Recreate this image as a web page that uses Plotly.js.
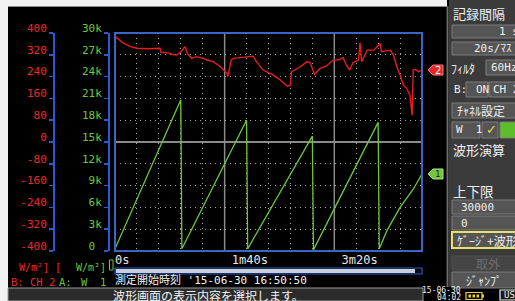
<!DOCTYPE html>
<html>
<head>
<meta charset="utf-8">
<script src="https://cdn.plot.ly/plotly-3.0.1.min.js"></script>
<style>
html,body{margin:0;padding:0;background:#000;overflow:hidden;}
#chart{width:515px;height:301px;}
</style>
</head>
<body>
<div id="chart"></div>
<script>
// ---- Data ----
// A: W 1 (green, 0..30k W/m²)
const tGreen = [0, 60, 61, 120, 121, 180, 181, 240, 241, 248, 260, 272, 280];
const wGreen = [300, 20800, 300, 18000, 300, 15800, 150, 17700, 300, 2800, 6000, 8500, 10600];
// B: CH 2 (red, -400..400 W/m²)
const tRed = [0, 7, 14, 20, 30, 41, 42, 47, 52, 56, 60, 64, 66, 70, 74, 80, 84, 90, 96, 102,
              103, 106, 108, 117, 126, 129, 135, 138, 144, 150, 154, 157, 160, 161, 169, 175, 178, 182, 187, 193,
              198, 205, 208, 211, 214, 217, 222, 223.5, 225, 230, 236, 241.7, 243, 251, 254, 257, 260, 263, 266, 269,
              271, 272, 274, 277, 280];
const vRed = [388, 365, 350, 344, 342, 344, 328, 329, 322, 319, 331, 350, 325, 307, 313, 308, 301, 294, 276, 252,
              240, 301, 307, 311, 315, 295, 264, 258, 246, 230, 215, 205, 209, 258, 276, 295, 291, 249, 270, 279,
              298, 303, 310, 282, 264, 291, 301, 364, 295, 337, 337, 362, 331, 337, 319, 276, 246, 209, 197, 172,
              98, 264, 266, 258, 264];
// Axis ticks
const xTickVals = [0, 100, 200];
const xTickText = ['0s', '\u00a01m40s', '\u00a03m20s'];
const gTickVals = [0, 3000, 6000, 9000, 12000, 15000, 18000, 21000, 24000, 27000, 30000];
const gTickText = ['0\u00a0', '3k', '6k', '9k', '12k', '15k', '18k', '21k', '24k', '27k', '30k'];
const rTickVals = [-400, -320, -240, -160, -80, 0, 80, 160, 240, 320, 400];
const rTickText = ['-400', '-320', '-240', '-160', '-80', '0', '80', '160', '240', '320', '400'];

// ---- helpers (pixel -> paper) ----
const W = 515, H = 301;
const px = x => x / W;
const py = y => 1 - y / H;
const RED = '#ee2a2a', GREEN = '#6cc83c', BLUE = '#2a5bd0';
const MONO = 'DejaVu Sans Mono, Noto Sans CJK JP';
const JP = 'Noto Sans CJK JP, DejaVu Sans';

const shapes = [];
const ann = [];
function rect(x0, y0, x1, y1, fill, line, lw, layer) {
  shapes.push({type: 'rect', xref: 'paper', yref: 'paper', x0: px(x0), x1: px(x1), y0: py(y1), y1: py(y0),
    fillcolor: fill || 'rgba(0,0,0,0)', line: {color: line || 'rgba(0,0,0,0)', width: lw || 0}, layer: layer || 'above'});
}
function txt(x, y, text, color, size, anchor, family) {
  ann.push({xref: 'paper', yref: 'paper', x: px(x), y: py(y), text: text, showarrow: false,
    xanchor: anchor || 'left', yanchor: 'middle', font: {family: family || MONO, size: size || 12, color: color || '#fff'}});
}

// screen frame
rect(0, 0, 447, 6, '#f2f2f2', null, 0, 'below');
rect(0, 0, 8, 301, '#f2f2f2', null, 0, 'below');
rect(8, 6, 447, 7, '#8c8c8c', null, 0, 'below');
// right panel
rect(449, 0, 515, 287, '#3b3b3b', null, 0, 'below');
rect(446.5, 6, 448.5, 287, '#6a6a6a', null, 0, 'below');
// status bar
rect(8, 288, 423, 301, '#2c2c2c', '#9a9a9a', 1, 'below');
txt(111, 295, '波形画面の表示内容を選択します。', '#f4f4f4', 12, 'left', JP);
// scrollbar
rect(115, 268, 422, 274, '#0a0a0a', BLUE, 1.2, 'below');
rect(116, 269, 415, 273, '#c9cfd6', null, 0, 'below');
// start time
txt(113, 279.5, '測定開始時刻 \'15-06-30 16:50:50', '#f4f4f4', 11, 'left', MONO);
// small green cursor mark
rect(109.5, 260, 113, 270, 'rgba(0,0,0,0)', GREEN, 1, 'above');
// plot frame
shapes.push({type: 'rect', xref: 'x domain', yref: 'y domain', x0: 0, x1: 1, y0: 0, y1: 1,
  line: {color: '#3a66c8', width: 2}, layer: 'above'});
// solid division lines at 100 s and 200 s
xTickVals.slice(1).forEach(v => shapes.push({type: 'line', xref: 'x', yref: 'y domain', x0: v, x1: v, y0: 0, y1: 1,
  line: {color: '#8a8a8a', width: 1.5}, layer: 'below'}));

// units / channel labels
txt(51, 267, 'W/m²]', RED, 10, 'right');
txt(53, 267, '[', RED, 10.5, 'left');
txt(108, 267, 'W/m²]', GREEN, 10, 'right');
txt(9, 282, 'B: CH 2', RED, 10.5, 'left');
txt(57, 282, 'A:', GREEN, 10.5, 'left');
txt(108, 282, 'W  1', GREEN, 10.5, 'right');

// right panel widgets
function btn(x0, y0, x1, y1, label, opts) {
  opts = opts || {};
  rect(x0, y0, x1, y1, opts.fill || '#555555', opts.border || '#7d7d7d', opts.lw || 1, 'above');
  if (label) txt(opts.tx || (x0 + 3), (y0 + y1) / 2, label, opts.color || '#f0f0f0', opts.size || 11, opts.anchor || 'left', opts.family || MONO);
}
txt(451, 13.5, '記録間隔', '#f0f0f0', 13, 'left', JP);
btn(452, 25, 520, 38, '1 s', {tx: 497});
btn(452, 42, 520, 55, '20s/ﾏｽ', {tx: 472});
txt(449, 68, 'ﾌｨﾙﾀ', '#f0f0f0', 12, 'left', JP);
btn(486, 60, 520, 75, '60Hz', {tx: 489});
txt(452, 89.5, 'B:', '#f0f0f0', 11, 'left');
btn(466, 82, 488, 97, 'ON', {tx: 474});
btn(489, 82, 520, 97, 'CH 2', {tx: 491});
btn(452, 103, 520, 118, 'ﾁｬﾈﾙ設定', {tx: 455, size: 12, family: JP});
btn(452, 122, 480, 138, 'W  1', {tx: 454});
btn(482, 122, 498, 138, '✓', {tx: 484, color: '#e6d83a', size: 13, family: 'DejaVu Sans'});
btn(500, 122, 520, 138, '', {fill: '#5cbf2a'});
txt(451, 149, '波形演算', '#f0f0f0', 13, 'left', JP);
txt(451, 191, '上下限', '#f0f0f0', 13.5, 'left', JP);
btn(452, 200, 520, 214, '30000', {tx: 459});
btn(452, 216, 520, 230, '0', {tx: 459});
btn(452, 232, 520, 248, 'ｹﾞｰｼﾞ+波形', {tx: 455, size: 12, border: '#e8e06a', lw: 2, family: JP});
btn(452, 256, 520, 270, '取外', {tx: 474, size: 12, fill: '#454545', border: '#4f4f4f', color: '#6e6e6e', family: JP});
btn(452, 272, 520, 288, 'ｼﾞｬﾝﾌﾟ', {tx: 464, size: 12, family: JP});
// bottom-right status
txt(463, 290.5, '15-06-30', '#f0f0f0', 8, 'right');
txt(463, 297.5, '04:02', '#f0f0f0', 8, 'right');
rect(466, 292.5, 482, 299.5, 'rgba(0,0,0,0)', '#e6d43a', 1.2, 'above');
rect(482, 294.5, 484, 297.5, '#e6d43a', null, 0, 'above');
rect(468.5, 294.5, 471, 297.5, '#e6d43a', null, 0, 'above');
rect(472.5, 294.5, 475, 297.5, '#e6d43a', null, 0, 'above');
rect(476.5, 294.5, 479, 297.5, '#e6d43a', null, 0, 'above');
rect(500, 290, 520, 300, '#1a1a1a', '#f0f0f0', 1.2, 'above');
txt(502, 295, 'USB', '#f0f0f0', 9, 'left');

// channel value tags at the right of the plot (anchored to last data values)
const lastRed = vRed[vRed.length - 1];
const lastGreen = wGreen[wGreen.length - 1];
shapes.push({type: 'path', xref: 'paper', yref: 'y2', xsizemode: 'pixel', ysizemode: 'pixel',
  xanchor: px(428), yanchor: lastRed, path: 'M0,0 L5,5 L15,5 L15,-5 L5,-5 Z',
  fillcolor: '#e8262a', line: {color: '#ff8080', width: 1}, layer: 'above'});
ann.push({xref: 'paper', yref: 'y2', x: px(438), y: lastRed, text: '2', showarrow: false,
  font: {family: 'DejaVu Sans', size: 10, color: '#fff'}, xanchor: 'center', yanchor: 'middle'});
shapes.push({type: 'path', xref: 'paper', yref: 'y', xsizemode: 'pixel', ysizemode: 'pixel',
  xanchor: px(428), yanchor: lastGreen, path: 'M0,0 L5,5 L15,5 L15,-5 L5,-5 Z',
  fillcolor: '#74c442', line: {color: '#a6e07c', width: 1}, layer: 'above'});
ann.push({xref: 'paper', yref: 'y', x: px(438), y: lastGreen, text: '1', showarrow: false,
  font: {family: 'DejaVu Sans', size: 9, color: '#103010'}, xanchor: 'center', yanchor: 'middle'});

const traces = [
  {x: tGreen, y: wGreen, type: 'scatter', mode: 'lines', yaxis: 'y', line: {color: GREEN, width: 1.3}, hoverinfo: 'skip'},
  {x: tRed, y: vRed, type: 'scatter', mode: 'lines', yaxis: 'y2', line: {color: '#e81c1c', width: 1.4}, hoverinfo: 'skip'}
];

const gridDot = {color: '#a8a8a8', dash: '1px,4px'};
const layout = {
  width: W, height: H, margin: {l: 0, r: 0, t: 0, b: 0},
  paper_bgcolor: '#000', plot_bgcolor: '#000', showlegend: false,
  xaxis: {domain: [px(115), px(422)], range: [0, 280], tickmode: 'array', tickvals: xTickVals, ticktext: xTickText,
    showgrid: true, gridcolor: '#8a8a8a', gridwidth: 1, zeroline: false, showline: false, ticks: '',
    ticklabelposition: 'outside right', tickfont: {family: MONO, size: 12, color: '#e8e8e8'},
    minor: {tickmode: 'linear', tick0: 0, dtick: 20, showgrid: true, gridcolor: gridDot.color, griddash: gridDot.dash, gridwidth: 1},
    fixedrange: true},
  yaxis: {domain: [1 - 251 / H, 1 - 33 / H], range: [0, 30000], tickmode: 'array', tickvals: gTickVals, ticktext: gTickText,
    anchor: 'free', position: px(108), side: 'left', showline: true, linecolor: BLUE, linewidth: 1.5,
    ticks: 'outside', ticklen: 4, tickcolor: BLUE, tickwidth: 1.5,
    showgrid: true, gridcolor: gridDot.color, griddash: gridDot.dash, gridwidth: 1, zeroline: false,
    tickfont: {family: MONO, size: 11, color: GREEN}, ticklabelshift: -5, fixedrange: true},
  yaxis2: {overlaying: 'y', anchor: 'free', position: px(53), side: 'left', range: [-400, 400],
    tickmode: 'array', tickvals: rTickVals, ticktext: rTickText, showline: true, linecolor: BLUE, linewidth: 1.5,
    ticks: 'outside', ticklen: 4, tickcolor: BLUE, tickwidth: 1.5, showgrid: false,
    zeroline: true, zerolinecolor: '#8a8a8a', zerolinewidth: 1.5,
    tickfont: {family: MONO, size: 11, color: RED}, ticklabelshift: -5, fixedrange: true},
  shapes: shapes,
  annotations: ann
};
Plotly.newPlot('chart', traces, layout, {staticPlot: true, displayModeBar: false});
</script>
</body>
</html>
